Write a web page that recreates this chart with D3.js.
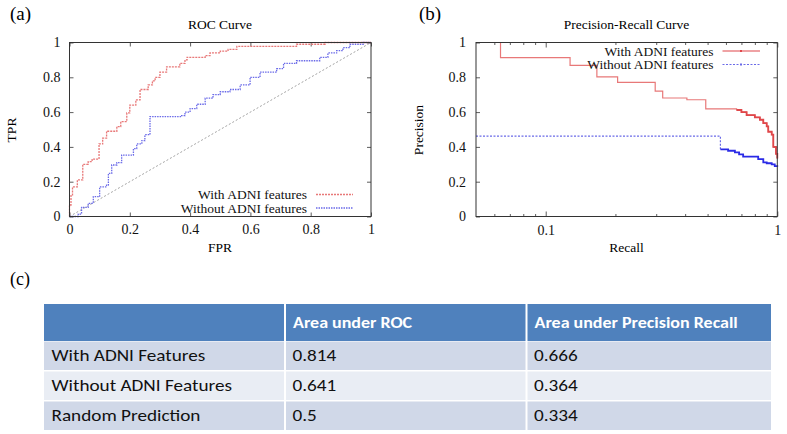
<!DOCTYPE html>
<html><head><meta charset="utf-8">
<script src="https://cdn.jsdelivr.net/npm/d3@7"></script>
<style>
html,body{margin:0;padding:0;background:#fff;}
svg{display:block;}
</style></head>
<body>
<svg id="c" width="787" height="434"></svg>
<script>
// ---------- DATA ----------
const rocTicks = [0, 0.2, 0.4, 0.6, 0.8, 1];
const rocWithFPR = [0,0,0.005,0.01,0.026,0.044,0.062,0.075,0.098,0.11,0.123,0.157,0.17,0.19,0.2,0.22,0.234,0.261,0.275,0.284,0.30,0.322,0.366,0.383,0.39,0.45,0.466,0.50,0.526,0.555,0.753,0.848,1];
const rocWithTPR = [0,0.066,0.12,0.17,0.21,0.30,0.315,0.33,0.417,0.45,0.49,0.516,0.545,0.595,0.64,0.67,0.73,0.756,0.78,0.80,0.83,0.86,0.88,0.90,0.915,0.925,0.94,0.95,0.96,0.978,0.99,1,1];
const rocWithoutFPR = [0,0.029,0.029,0.04,0.062,0.079,0.10,0.123,0.129,0.14,0.157,0.173,0.212,0.223,0.24,0.25,0.267,0.267,0.372,0.383,0.40,0.422,0.45,0.476,0.50,0.532,0.566,0.599,0.632,0.687,0.71,0.753,0.83,0.857,0.886,0.907,0.93,0.974,1];
const rocWithoutTPR = [0,0,0.014,0.053,0.076,0.114,0.17,0.18,0.248,0.296,0.31,0.353,0.39,0.417,0.436,0.47,0.497,0.574,0.58,0.60,0.62,0.645,0.68,0.70,0.717,0.73,0.756,0.80,0.83,0.85,0.88,0.895,0.915,0.94,0.953,0.97,0.99,1,1];
const randomFPR = [0, 1];
const randomTPR = [0, 1];

const prYTicks = [0, 0.2, 0.4, 0.6, 0.8, 1];
const prXMajor = [0.1, 1];
const prXMinor = [0.06,0.07,0.08,0.09,0.2,0.3,0.4,0.5,0.6,0.7,0.8,0.9];
const prWithRecall = [0.05,0.0638,0.1274,0.1663,0.2044,0.297,0.32,0.407,0.491,0.667,0.70,0.737,0.80,0.841,0.87,0.90,0.914,0.946,0.961,0.987,1];
const prWithPrecision = [1,0.913,0.869,0.803,0.771,0.72,0.681,0.671,0.618,0.612,0.60,0.583,0.57,0.556,0.537,0.518,0.487,0.47,0.40,0.36,0.334];
const prWithoutRecall = [0.05,0.568,0.613,0.656,0.684,0.712,0.827,0.870,0.90,0.946,0.975,1];
const prWithoutPrecision = [0.462,0.386,0.378,0.369,0.357,0.344,0.33,0.311,0.306,0.30,0.29,0.286];

const seriesNames = ["With ADNI features", "Without ADNI features"];

const tableHeader = ["", "Area under ROC", "Area under Precision Recall"];
const tableRows = ["With ADNI Features", "Without ADNI Features", "Random Prediction"];
const aucROC = ["0.814", "0.641", "0.5"];
const aucPR = ["0.666", "0.364", "0.334"];

// ---------- STYLE ----------
const RED = "#e0474a", RED_L = "#e87878", BLUE = "#2a2ae6", BLUE_L = "#6a6ae8", GREY = "#999";
const svg = d3.select("#c");
const SERIF = '"Liberation Serif","Times New Roman",serif';
const TICKFS = 14, LABFS = 13.5;

function styleAxis(g, showText){
  g.select(".domain").remove();
  g.selectAll(".tick line").attr("stroke","#333").attr("stroke-width",0.8);
  g.selectAll(".tick text").attr("font-family",SERIF).attr("font-size",TICKFS).attr("fill","#111");
  if(!showText) g.selectAll(".tick text").remove();
}

// ---------- ROC ----------
(function(){
  const x = d3.scaleLinear().domain([0,1]).range([69.5,371]);
  const y = d3.scaleLinear().domain([0,1]).range([216.5,42.5]);
  const g = svg.append("g");
  g.append("g").attr("transform","translate(0,216.5)")
    .call(d3.axisBottom(x).tickValues(rocTicks).tickFormat(d3.format("")).tickSize(-4).tickPadding(8))
    .call(a=>styleAxis(a,true));
  g.append("g").attr("transform","translate(0,42.5)")
    .call(d3.axisTop(x).tickValues(rocTicks).tickSize(-4)).call(a=>styleAxis(a,false));
  g.append("g").attr("transform","translate(69.5,0)")
    .call(d3.axisLeft(y).tickValues(rocTicks).tickFormat(d3.format("")).tickSize(-4).tickPadding(9))
    .call(a=>styleAxis(a,true));
  g.append("g").attr("transform","translate(371,0)")
    .call(d3.axisRight(y).tickValues(rocTicks).tickSize(-4)).call(a=>styleAxis(a,false));

  const line = d3.line().x(d=>x(d[0])).y(d=>y(d[1]));
  g.append("path").attr("d", line(d3.zip(randomFPR, randomTPR)))
    .attr("fill","none").attr("stroke",GREY).attr("stroke-width",0.9).attr("stroke-dasharray","2,2");
  const step = d3.line().x(d=>x(d[0])).y(d=>y(d[1])).curve(d3.curveStepAfter);
  g.append("path").attr("d", step(d3.zip(rocWithoutFPR, rocWithoutTPR)))
    .attr("fill","none").attr("stroke",BLUE_L).attr("stroke-width",1.3).attr("stroke-dasharray","1.5,1");
  g.append("path").attr("d", step(d3.zip(rocWithFPR, rocWithTPR)))
    .attr("fill","none").attr("stroke",RED_L).attr("stroke-width",1.3).attr("stroke-dasharray","2,1");

  g.append("rect").attr("x",69.5).attr("y",42.5).attr("width",301.5).attr("height",174)
    .attr("fill","none").attr("stroke","#333").attr("stroke-width",1);

  // legend
  const leg = [{name:seriesNames[0], c:RED_L, dash:"2,1", y:194.5},{name:seriesNames[1], c:BLUE_L, dash:"1.5,1", y:208}];
  leg.forEach(l=>{
    g.append("text").attr("x",307).attr("y",l.y+4.5).attr("text-anchor","end")
      .attr("font-family",SERIF).attr("font-size",LABFS).attr("fill","#111").text(l.name);
    g.append("line").attr("x1",316).attr("x2",353).attr("y1",l.y).attr("y2",l.y)
      .attr("stroke",l.c).attr("stroke-width",1.3).attr("stroke-dasharray",l.dash);
  });

  g.append("text").attr("x",220).attr("y",28.5).attr("text-anchor","middle")
    .attr("font-family",SERIF).attr("font-size",LABFS).text("ROC Curve");
  g.append("text").attr("x",220).attr("y",251.5).attr("text-anchor","middle")
    .attr("font-family",SERIF).attr("font-size",LABFS).text("FPR");
  g.append("text").attr("transform","translate(16,130) rotate(-90)").attr("text-anchor","middle")
    .attr("font-family",SERIF).attr("font-size",LABFS).text("TPR");
  g.append("text").attr("x",10).attr("y",19.5).attr("font-family",SERIF).attr("font-size",19).text("(a)");
})();

// ---------- PR ----------
(function(){
  const x = d3.scaleLog().domain([0.05,1]).range([476,777.3]);
  const y = d3.scaleLinear().domain([0,1]).range([216.5,42.5]);
  const g = svg.append("g");
  g.append("g").attr("transform","translate(0,216.5)")
    .call(d3.axisBottom(x).tickValues(prXMajor).tickFormat(d3.format("")).tickSize(-5).tickPadding(9))
    .call(a=>styleAxis(a,true));
  g.append("g").attr("transform","translate(0,216.5)")
    .call(d3.axisBottom(x).tickValues(prXMinor).tickSize(-2.5)).call(a=>styleAxis(a,false));
  g.append("g").attr("transform","translate(0,42.5)")
    .call(d3.axisTop(x).tickValues(prXMajor).tickSize(-5)).call(a=>styleAxis(a,false));
  g.append("g").attr("transform","translate(0,42.5)")
    .call(d3.axisTop(x).tickValues(prXMinor).tickSize(-2.5)).call(a=>styleAxis(a,false));
  g.append("g").attr("transform","translate(476,0)")
    .call(d3.axisLeft(y).tickValues(prYTicks).tickFormat(d3.format("")).tickSize(-4).tickPadding(10))
    .call(a=>styleAxis(a,true));
  g.append("g").attr("transform","translate(777.3,0)")
    .call(d3.axisRight(y).tickValues(prYTicks).tickSize(-4)).call(a=>styleAxis(a,false));

  const step = d3.line().x(d=>x(d[0])).y(d=>y(d[1])).curve(d3.curveStepAfter);
  const wo = d3.zip(prWithoutRecall, prWithoutPrecision);
  g.append("path").attr("d", step(wo.slice(0,2)))
    .attr("fill","none").attr("stroke",BLUE_L).attr("stroke-width",1.2).attr("stroke-dasharray","2,1.5");
  g.append("path").attr("d", step(wo.slice(1)))
    .attr("fill","none").attr("stroke",BLUE).attr("stroke-width",1.8);
  const wi = d3.zip(prWithRecall, prWithPrecision);
  g.append("path").attr("d", step(wi))
    .attr("fill","none").attr("stroke",RED_L).attr("stroke-width",1.2);
  g.append("path").attr("d", step(wi.slice(9)))
    .attr("fill","none").attr("stroke",RED).attr("stroke-width",1.8);

  g.append("rect").attr("x",476).attr("y",42.5).attr("width",301.3).attr("height",174)
    .attr("fill","none").attr("stroke","#333").attr("stroke-width",1);

  const leg = [{name:seriesNames[0], c:RED, dash:null, y:51},{name:seriesNames[1], c:BLUE_L, dash:"2,1.5", y:64.5}];
  leg.forEach(l=>{
    g.append("text").attr("x",713.5).attr("y",l.y+4.5).attr("text-anchor","end")
      .attr("font-family",SERIF).attr("font-size",LABFS).attr("fill","#111").text(l.name);
    g.append("line").attr("x1",722.5).attr("x2",760).attr("y1",l.y).attr("y2",l.y)
      .attr("stroke",l.c).attr("stroke-width",1.1).attr("stroke-dasharray",l.dash);
    g.append("rect").attr("x",740).attr("y",l.y-1).attr("width",2).attr("height",2).attr("fill",l.c);
  });

  g.append("text").attr("x",626.5).attr("y",28.5).attr("text-anchor","middle")
    .attr("font-family",SERIF).attr("font-size",LABFS).text("Precision-Recall Curve");
  g.append("text").attr("x",626.5).attr("y",252).attr("text-anchor","middle")
    .attr("font-family",SERIF).attr("font-size",LABFS).text("Recall");
  g.append("text").attr("transform","translate(423,130) rotate(-90)").attr("text-anchor","middle")
    .attr("font-family",SERIF).attr("font-size",LABFS).text("Precision");
  g.append("text").attr("x",419).attr("y",19.5).attr("font-family",SERIF).attr("font-size",19).text("(b)");
})();

// ---------- TABLE ----------
(function(){
  const g = svg.append("g");
  g.append("text").attr("x",10).attr("y",285).attr("font-family",SERIF).attr("font-size",18).text("(c)");
  const colEdges = [44, 285, 526.5, 771];
  const TF = '"Carlito","Lato","Open Sans",sans-serif';
  const SX = 1.2;
  const rowY = d3.scaleBand().domain(tableRows).range([341.5, 430]).paddingInner(0.05);
  tableHeader.forEach((h,i)=>{
    g.append("rect").attr("x",colEdges[i]+(i?1:0)).attr("y",304)
      .attr("width",colEdges[i+1]-colEdges[i]-(i?1:0)-(i<2?1:0)).attr("height",37).attr("fill","#4f81bd");
    if(h) g.append("text").attr("transform",`translate(${colEdges[i]+8},322.5) scale(${SX},1)`).attr("dy","0.35em")
      .attr("font-family",TF).attr("font-weight","bold").attr("font-size",15).attr("fill","#fff").text(h);
  });
  const fills = ["#d0d8e8","#e9edf4","#d0d8e8"];
  tableRows.forEach((r,ri)=>{
    const cells = [r, aucROC[ri], aucPR[ri]];
    cells.forEach((c,i)=>{
      g.append("rect").attr("x",colEdges[i]+(i?1:0)).attr("y",rowY(r))
        .attr("width",colEdges[i+1]-colEdges[i]-(i?1:0)-(i<2?1:0)).attr("height",rowY.bandwidth())
        .attr("fill",fills[ri]);
      g.append("text").attr("transform",`translate(${colEdges[i]+7.5},${rowY(r)+rowY.bandwidth()/2}) scale(${SX},1)`).attr("dy","0.35em")
        .attr("font-family",TF).attr("font-size",16).attr("fill","#111").text(c);
    });
  });
})();
</script>
</body></html>
